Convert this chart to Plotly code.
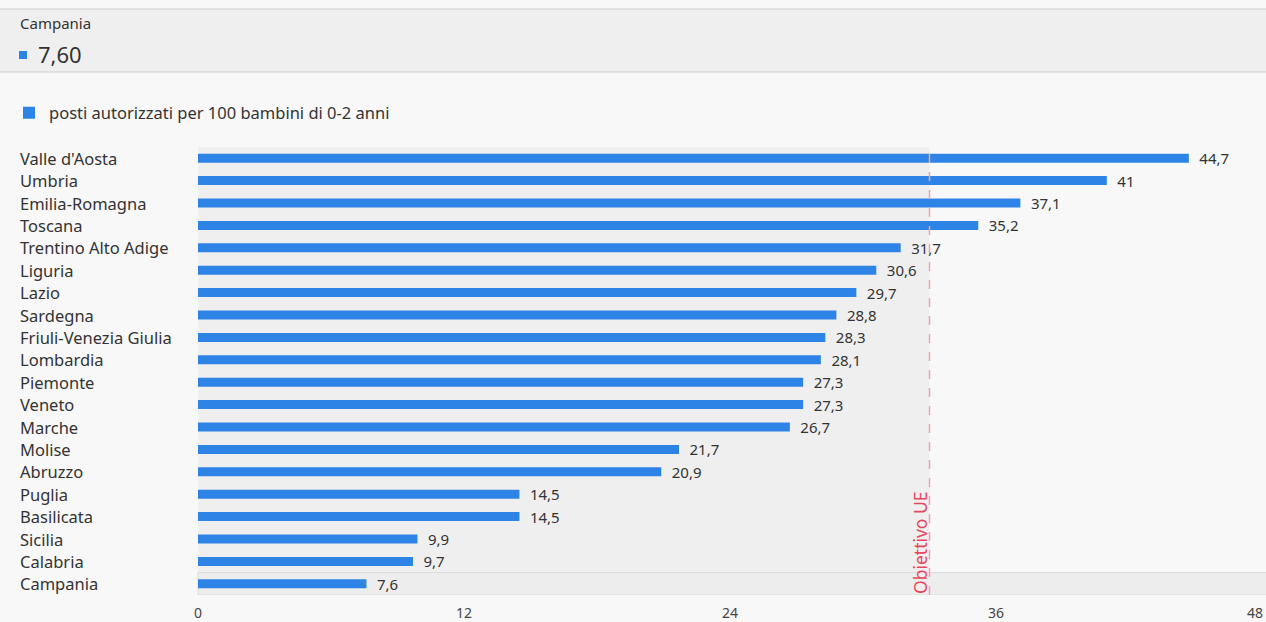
import plotly.graph_objects as go

regioni = ["Valle d'Aosta", "Umbria", "Emilia-Romagna", "Toscana", "Trentino Alto Adige",
           "Liguria", "Lazio", "Sardegna", "Friuli-Venezia Giulia", "Lombardia",
           "Piemonte", "Veneto", "Marche", "Molise", "Abruzzo",
           "Puglia", "Basilicata", "Sicilia", "Calabria", "Campania"]
posti = [44.7, 41.0, 37.1, 35.2, 31.7, 30.6, 29.7, 28.8, 28.3, 28.1,
         27.3, 27.3, 26.7, 21.7, 20.9, 14.5, 14.5, 9.9, 9.7, 7.6]
serie_nome = "posti autorizzati per 100 bambini di 0-2 anni"
obiettivo_ue = 33
obiettivo_label = "Obiettivo UE"
x_ticks = [0, 12, 24, 36, 48]
evidenziata = "Campania"

BLU = "#2e84e6"
FONT = "Noto Sans"
W, H = 1266, 622
L, R, T, B = 198, 4, 147, 27
PW, PH = W - L - R, H - T - B


def px_x(px):
    return (px - L) / PW


def px_y(py):
    return (H - B - py) / PH


def it_num(v, fmt="g"):
    return format(v, fmt).replace(".", ",")


# l'ultima etichetta dell'asse sta sul bordo: la spingo un poco verso sinistra
tick_text = [str(t) for t in x_ticks]
tick_text[-1] = tick_text[-1] + "\u2003"

n = len(regioni)
fig = go.Figure()
fig.add_trace(go.Bar(
    x=posti, y=regioni, orientation="h",
    marker=dict(color=BLU, line=dict(width=0)),
    text=["\u2002" + it_num(v) for v in posti], textposition="outside",
    constraintext="none",
    textfont=dict(family=FONT, size=15, color="#333333"),
    cliponaxis=False, name=serie_nome, showlegend=True,
))

idx = regioni.index(evidenziata)
shapes = [
    # area sotto l'obiettivo
    dict(type="rect", xref="x", yref="paper", x0=0, x1=obiettivo_ue, y0=0, y1=1,
         fillcolor="#efefef", line=dict(width=0), layer="below"),
    # riga evidenziata
    dict(type="rect", xref="paper", yref="y", x0=0, x1=px_x(W), y0=idx - 0.5, y1=idx + 0.5,
         fillcolor="#ededed", line=dict(width=0), layer="below"),
    dict(type="line", xref="paper", yref="y", x0=0, x1=px_x(W), y0=idx - 0.5, y1=idx - 0.5,
         line=dict(color="#dcdcdc", width=1), layer="below"),
    dict(type="line", xref="paper", yref="y", x0=0, x1=px_x(W), y0=idx + 0.5, y1=idx + 0.5,
         line=dict(color="#dcdcdc", width=1), layer="below"),
    dict(type="line", xref="paper", yref="y", x0=0, x1=0, y0=idx - 0.5, y1=idx + 0.5,
         line=dict(color="#dcdcdc", width=1), layer="below"),
    # linea obiettivo UE
    dict(type="line", xref="x", yref="paper", x0=obiettivo_ue, x1=obiettivo_ue, y0=0, y1=1,
         line=dict(color="#f4a0aa", width=1.5, dash="dash")),
    # testata
    dict(type="rect", xref="paper", yref="paper", x0=px_x(-2), x1=px_x(W + 2),
         y0=px_y(72), y1=px_y(9), fillcolor="#efefef",
         line=dict(color="#d9d9d9", width=1.5)),
    dict(type="rect", xref="paper", yref="paper", x0=px_x(19), x1=px_x(27),
         y0=px_y(59), y1=px_y(51), fillcolor=BLU, line=dict(width=0)),
]

annotations = [
    dict(text=obiettivo_label, xref="x", yref="paper", x=obiettivo_ue, y=0,
         xanchor="right", yanchor="bottom", textangle=-90, showarrow=False,
         font=dict(family=FONT, size=17.5, color="#e5485e"), xshift=4, yshift=-1),
    dict(text=evidenziata, xref="paper", yref="paper", x=px_x(18), y=px_y(23),
         xanchor="left", yanchor="middle", showarrow=False,
         font=dict(family=FONT, size=15, color="#333333")),
    dict(text=it_num(posti[idx], ".2f"), xref="paper", yref="paper", x=px_x(36), y=px_y(54),
         xanchor="left", yanchor="middle", showarrow=False,
         font=dict(family=FONT, size=22, color="#333333")),
]
for r in regioni:
    annotations.append(dict(text=r, xref="paper", yref="y", x=px_x(18), y=r,
                            xanchor="left", yanchor="middle", showarrow=False,
                            font=dict(family=FONT, size=16.5, color="#333333")))

fig.update_layout(
    width=W, height=H,
    margin=dict(l=L, r=R, t=T, b=B, pad=0, autoexpand=False),
    paper_bgcolor="#f8f8f8", plot_bgcolor="rgba(0,0,0,0)",
    font=dict(family=FONT, color="#333333"),
    bargap=0.6,
    shapes=shapes, annotations=annotations,
    showlegend=True,
    legend=dict(orientation="h", x=px_x(9), y=px_y(113), xanchor="left", yanchor="middle",
                font=dict(family=FONT, size=16.5, color="#333333"),
                bgcolor="rgba(0,0,0,0)", itemwidth=30),
    xaxis=dict(range=[0, 48], tickvals=x_ticks, ticktext=tick_text,
               showgrid=False, zeroline=False, showline=False, ticks="",
               ticklabeloverflow="allow", ticklabelstandoff=8,
               tickfont=dict(family=FONT, size=14, color="#444444")),
    yaxis=dict(type="category", categoryorder="array", categoryarray=regioni,
               range=[n - 0.5, -0.5], autorange=False, showticklabels=False,
               showgrid=False, zeroline=False, showline=False, ticks=""),
)

fig.write_html("out.html")
